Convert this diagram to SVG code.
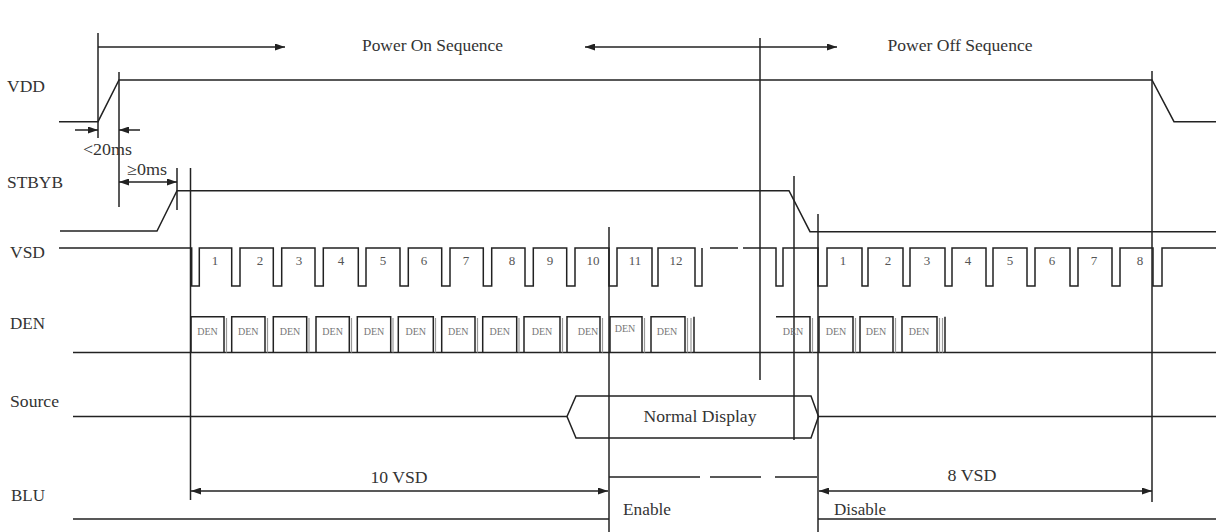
<svg xmlns="http://www.w3.org/2000/svg" width="1216" height="532" viewBox="0 0 1216 532">
<style>
.sig{fill:none;stroke:#222;stroke-width:1.5}
.dbl{fill:none;stroke:#999;stroke-width:1.2}
.ln{fill:none;stroke:#222;stroke-width:1.5}
.arr{fill:none;stroke:#222;stroke-width:1.5}
.lbl{font-family:"Liberation Serif","Times New Roman",serif;font-size:16px;fill:#333}
.num{font-family:"Liberation Serif","Times New Roman",serif;font-size:13px;fill:#555;text-anchor:middle}
.den{font-family:"Liberation Serif","Times New Roman",serif;font-size:10px;fill:#777;text-anchor:middle}
.mid{text-anchor:middle}
</style>
<defs>
<marker id="ah" viewBox="0 0 10 7" refX="10" refY="3.5" markerWidth="10" markerHeight="7" markerUnits="userSpaceOnUse" orient="auto-start-reverse">
<path d="M0,0 L10,3.5 L0,7 z" fill="#222"/>
</marker>
</defs>
<rect width="1216" height="532" fill="#fff"/>

<g id="connectors">
<line class="ln" x1="98" y1="33" x2="98" y2="138"/>
<line class="ln" x1="119" y1="72" x2="119" y2="207"/>
<line class="ln" x1="177" y1="168" x2="177" y2="210"/>
<line class="ln" x1="190.5" y1="168" x2="190.5" y2="500"/>
<line class="ln" x1="609" y1="227" x2="609" y2="532"/>
<line class="ln" x1="760" y1="38" x2="760" y2="380"/>
<line class="ln" x1="794" y1="176" x2="794" y2="440"/>
<line class="ln" x1="818" y1="214" x2="818" y2="532"/>
<line class="ln" x1="1152" y1="71" x2="1152" y2="502"/>
<line class="arr" x1="98" y1="47" x2="285" y2="47" marker-end="url(#ah)"/>
<line class="arr" x1="585" y1="47" x2="837" y2="47" marker-start="url(#ah)" marker-end="url(#ah)"/>
<line class="arr" x1="75" y1="130" x2="98" y2="130" marker-end="url(#ah)"/>
<line class="arr" x1="140" y1="130" x2="119" y2="130" marker-end="url(#ah)"/>
<line class="arr" x1="119" y1="182" x2="177" y2="182" marker-start="url(#ah)" marker-end="url(#ah)"/>
<line class="arr" x1="191" y1="491" x2="608" y2="491" marker-start="url(#ah)" marker-end="url(#ah)"/>
<line class="arr" x1="819" y1="491" x2="1152" y2="491" marker-start="url(#ah)" marker-end="url(#ah)"/>
</g>

<g id="titles">
<text class="lbl mid" x="432.5" y="51" textLength="141" lengthAdjust="spacingAndGlyphs">Power On Sequence</text>
<text class="lbl mid" x="960" y="51" textLength="145" lengthAdjust="spacingAndGlyphs">Power Off Sequence</text>
<text class="lbl" x="83" y="155" font-size="15" textLength="49" lengthAdjust="spacingAndGlyphs">&lt;20ms</text>
<text class="lbl" x="127" y="175" font-size="15" textLength="40" lengthAdjust="spacingAndGlyphs">≥0ms</text>
<text class="lbl mid" x="399" y="483" textLength="57" lengthAdjust="spacingAndGlyphs">10 VSD</text>
<text class="lbl mid" x="972" y="481" textLength="49" lengthAdjust="spacingAndGlyphs">8 VSD</text>
</g>

<g id="vdd">
<text class="lbl" x="7" y="92" textLength="38" lengthAdjust="spacingAndGlyphs">VDD</text>
<path class="sig" d="M59,121.7 H98 L119,80 H1152 L1174,121.7 H1216"/>
</g>

<g id="stbyb">
<text class="lbl" x="7" y="188" textLength="56" lengthAdjust="spacingAndGlyphs">STBYB</text>
<path class="sig" d="M60,231 H157 L177,190.7 H789 L810,231.7 H1216"/>
</g>

<g id="vsd">
<text class="lbl" x="10" y="258" textLength="35" lengthAdjust="spacingAndGlyphs">VSD</text>
<path class="sig" d="M59,248 H191.7 V286 H199.3 V248 H231.7 V286 H240 V248 H273.3 V286 H281.7 V248 H315 V286 H323.3 V248 H358.3 V286 H366 V248 H400 V286 H408.3 V248 H441.7 V286 H450 V248 H483.3 V286 H491.7 V248 H525 V286 H533.3 V248 H566.7 V286 H575 V248 H609 V286 H617 V248 H652 V286 H658 V248 H695 V286 H702 V248"/>
<path class="sig" d="M710,248 H738 M743,248 H776 V286 H783 V248 H818 V286 H827 V248 H862 V286 H868 V248 H903 V286 H910 V248 H945 V286 H952 V248 H986 V286 H993 V248 H1027 V286 H1035 V248 H1070 V286 H1078 V248 H1112 V286 H1120 V248 H1153 V286 H1162 V248 H1216"/>
<text class="num" x="215" y="265">1</text>
<text class="num" x="260" y="265">2</text>
<text class="num" x="299" y="265">3</text>
<text class="num" x="341" y="265">4</text>
<text class="num" x="383" y="265">5</text>
<text class="num" x="424" y="265">6</text>
<text class="num" x="466" y="265">7</text>
<text class="num" x="512" y="265">8</text>
<text class="num" x="550" y="265">9</text>
<text class="num" x="593" y="265">10</text>
<text class="num" x="635" y="265">11</text>
<text class="num" x="676" y="265">12</text>
<text class="num" x="843" y="265">1</text>
<text class="num" x="888" y="265">2</text>
<text class="num" x="927" y="265">3</text>
<text class="num" x="968" y="265">4</text>
<text class="num" x="1010" y="265">5</text>
<text class="num" x="1052" y="265">6</text>
<text class="num" x="1094" y="265">7</text>
<text class="num" x="1140" y="265">8</text>
</g>

<g id="den">
<text class="lbl" x="10" y="329" textLength="35" lengthAdjust="spacingAndGlyphs">DEN</text>
<path class="sig" d="M73,352.5 H1216"/>
<path class="sig" d="M191,352.5 V316.7 H224 V352.5 M231.7,352.5 V316.7 H265 V352.5 M273.3,352.5 V316.7 H306.7 V352.5 M316,352.5 V316.7 H349.3 V352.5 M357.3,352.5 V316.7 H390.7 V352.5 M398.3,352.5 V316.7 H433.3 V352.5 M441.7,352.5 V316.7 H475 V352.5 M482.7,352.5 V316.7 H516.7 V352.5 M524,352.5 V316.7 H560 V352.5 M567,352.5 V316.7 H600 V352.5 M610,352.5 V316.7 H642 V352.5 M651,352.5 V316.7 H685 V352.5 M694,352.5 V316.7"/>
<path class="sig" d="M776,316.7 H810 V352.5 M819,352.5 V316.7 H853 V352.5 M860,352.5 V316.7 H893 V352.5 M902,352.5 V316.7 H937 V352.5 M945,352.5 V316.7"/>
<path class="dbl" d="M226.5,318 V352.5 M267.5,318 V352.5 M309,318 V352.5 M351.5,318 V352.5 M393,318 V352.5 M435.5,318 V352.5 M477.5,318 V352.5 M519,318 V352.5 M562.5,318 V352.5 M602.5,318 V352.5 M644.5,318 V352.5 M687.5,318 V352.5 M691,318 V352.5 M812.5,318 V352.5 M855.5,318 V352.5 M895.5,318 V352.5 M939.5,318 V352.5 M942.5,318 V352.5"/>
<text class="den" x="207.5" y="335">DEN</text>
<text class="den" x="248.3" y="335">DEN</text>
<text class="den" x="290" y="335">DEN</text>
<text class="den" x="332.6" y="335">DEN</text>
<text class="den" x="374" y="335">DEN</text>
<text class="den" x="415.8" y="335">DEN</text>
<text class="den" x="458.3" y="335">DEN</text>
<text class="den" x="499.7" y="335">DEN</text>
<text class="den" x="542" y="335">DEN</text>
<text class="den" x="588" y="335">DEN</text>
<text class="den" x="625" y="332">DEN</text>
<text class="den" x="667" y="335">DEN</text>
<text class="den" x="793" y="335">DEN</text>
<text class="den" x="836" y="335">DEN</text>
<text class="den" x="876" y="335">DEN</text>
<text class="den" x="919" y="335">DEN</text>
</g>

<g id="source">
<text class="lbl" x="10" y="407" textLength="49" lengthAdjust="spacingAndGlyphs">Source</text>
<path class="sig" d="M73,416.5 H567 M818.5,416.5 H1216"/>
<path class="sig" d="M567,416.5 L576,396 H811 L818.5,416.5 L811,438 H576 Z"/>
<text class="lbl mid" x="700" y="422" textLength="113" lengthAdjust="spacingAndGlyphs">Normal Display</text>
</g>

<g id="blu">
<text class="lbl" x="11" y="501" textLength="34" lengthAdjust="spacingAndGlyphs">BLU</text>
<path class="sig" d="M73,519 H609 M818,519 H1216"/>
<path class="sig" stroke="#555" d="M609,477 H700 M710,477 H761 M775,477 H817"/>
<text class="lbl" x="623" y="515" textLength="48" lengthAdjust="spacingAndGlyphs">Enable</text>
<text class="lbl" x="834" y="515" textLength="52" lengthAdjust="spacingAndGlyphs">Disable</text>
</g>
</svg>
